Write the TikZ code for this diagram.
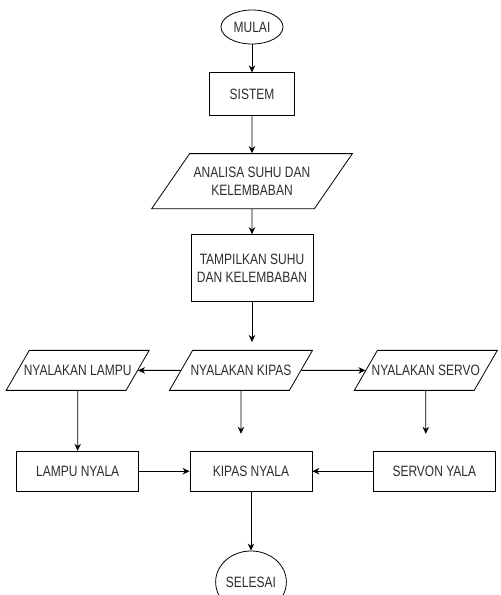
\documentclass[tikz,border=0pt]{standalone}
\usepackage{fontspec}
\setmainfont{Liberation Sans}[FakeStretch=0.8]
\usepackage{tikz}
\usetikzlibrary{arrows.meta,positioning,shapes.geometric}
\definecolor{inkgray}{RGB}{45,45,45}
% label of a parallelogram, centred on a fixed width
\newcommand{\iolabel}[1]{\makebox[96.8pt]{#1}}
\tikzset{
  termbox/.style={
    draw=black,
    ellipse,
    minimum width=62pt,
    minimum height=34pt,
    inner sep=0pt,
    text=inkgray,
    font=\fontsize{15}{17.5}\selectfont
  },
  procbox/.style={
    draw=black,
    rectangle,
    align=center,
    minimum width=122pt,
    minimum height=40pt,
    inner sep=2pt,
    text=inkgray,
    font=\fontsize{15}{17.5}\selectfont
  },
  iobox/.style={
    draw=black,
    trapezium,
    trapezium left angle=60,
    trapezium right angle=120,
    inner xsep=0pt,
    inner ysep=14.5pt,
    text height=11pt,
    text depth=0pt,
    align=center,
    text=inkgray,
    font=\fontsize{15}{17.5}\selectfont
  },
  flowarrow/.style={
    -{Stealth[length=7pt,width=6.5pt]},
    line width=0.8pt
  }
}

\begin{document}
\begin{tikzpicture}[line width=0.8pt]
  \useasboundingbox (0pt,0pt) rectangle (501pt,-595pt);
  % main column
  \node[termbox] (mulai) at (252pt,-27pt) {MULAI};
  \node[procbox, below=28pt of mulai, minimum width=85pt, minimum height=43pt] (sistem) {SISTEM};
  \node[iobox, below=37pt of sistem, trapezium left angle=55.4, trapezium right angle=124.6,
    text height=, text depth=, inner xsep=4pt, inner ysep=13.6pt] (analisa) {ANALISA SUHU DAN\\KELEMBABAN};
  \node[procbox, below=25pt of analisa, minimum height=67pt] (tampil) {TAMPILKAN SUHU\\DAN KELEMBABAN};
  % output row
  \node[iobox, below=48pt of tampil, xshift=-11pt] (kipas) {\iolabel{NYALAKAN KIPAS}};
  \node[iobox, left=42.5pt of kipas] (lampu) {\iolabel{NYALAKAN LAMPU}};
  \node[iobox, right=64pt of kipas] (servo) {\iolabel{NYALAKAN SERVO}};
  % status row
  \node[procbox, below=60pt of lampu] (lampunyala) {LAMPU NYALA};
  \node[procbox, below=60pt of kipas, xshift=10pt] (kipasnyala) {KIPAS NYALA};
  \node[procbox, below=60pt of servo, xshift=8.5pt] (servonyala) {SERVON YALA};
  \node[termbox, below=59pt of kipasnyala, minimum width=61pt, minimum height=62pt] (selesai) {SELESAI};
  \draw[flowarrow] (mulai) -- (sistem);
  \draw[flowarrow] (sistem) -- (analisa);
  \draw[flowarrow] (analisa) -- (tampil);
  \draw[flowarrow, shorten >=8pt] (tampil) -- (tampil |- kipas.north);
  \draw[flowarrow] (kipas) -- (lampu);
  \draw[flowarrow] (kipas) -- (servo);
  \draw[flowarrow] (lampu) -- (lampunyala);
  \draw[flowarrow, shorten >=17pt] (kipas) -- (kipas |- kipasnyala.north);
  \draw[flowarrow, shorten >=17pt] (servo) -- (servo |- servonyala.north);
  \draw[flowarrow] (lampunyala) -- (kipasnyala);
  \draw[flowarrow] (servonyala) -- (kipasnyala);
  \draw[flowarrow] (kipasnyala) -- (selesai);
\end{tikzpicture}
\end{document}
